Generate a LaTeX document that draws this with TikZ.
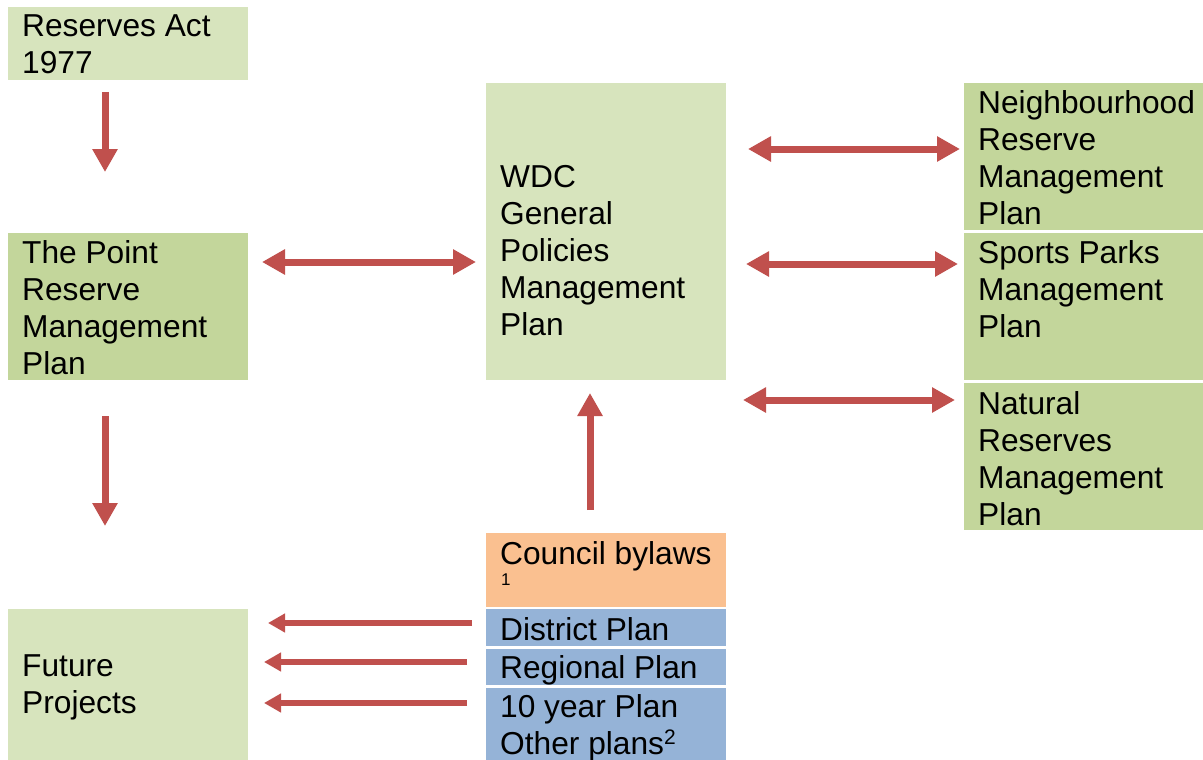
\documentclass[tikz,border=0pt]{standalone}
\usepackage{fontspec}
\setmainfont{Liberation Sans}
\usetikzlibrary{arrows.meta}
\definecolor{lgreen}{HTML}{D7E4BD}
\definecolor{dgreen}{HTML}{C3D69B}
\definecolor{lorange}{HTML}{FAC090}
\definecolor{lblue}{HTML}{95B3D7}
\definecolor{arrred}{HTML}{C0504D}
\begin{document}
\begin{tikzpicture}[x=1pt,y=-1pt,
  box/.style={anchor=north west,inner sep=0pt,outer sep=0pt,draw=none},
  txt/.style={anchor=north west,inner sep=0pt,align=left,font=\fontsize{31.7}{37}\selectfont},
  bigarr/.style={draw=arrred,line width=7pt,-{Triangle[length=23pt,width=24pt]}},
  dblarr/.style={draw=arrred,line width=7pt,{Triangle[length=23pt,width=24pt]}-{Triangle[length=23pt,width=24pt]}},
  smallarr/.style={draw=arrred,line width=6pt,-{Triangle[length=17pt,width=18pt]}}]
\useasboundingbox (0,0) rectangle (1203,760);
\fill[white] (0,0) rectangle (1203,760);
% boxes
\node[box,fill=lgreen,minimum width=240pt,minimum height=73pt] (reserves) at (8,7) {};
\node[box,fill=dgreen,minimum width=240pt,minimum height=147pt] (point) at (8,233) {};
\node[box,fill=lgreen,minimum width=240pt,minimum height=151pt] (future) at (8,609) {};
\node[box,fill=lgreen,minimum width=240pt,minimum height=297pt] (wdc) at (486,83) {};
\node[box,fill=dgreen,minimum width=239pt,minimum height=147pt] (neigh) at (964,83) {};
\node[box,fill=dgreen,minimum width=239pt,minimum height=147pt] (sports) at (964,233) {};
\node[box,fill=dgreen,minimum width=239pt,minimum height=147pt] (natural) at (964,383) {};
\node[box,fill=lorange,minimum width=240pt,minimum height=74pt] (council) at (486,533) {};
\node[box,fill=lblue,minimum width=240pt,minimum height=37pt] (district) at (486,609) {};
\node[box,fill=lblue,minimum width=240pt,minimum height=36pt] (regional) at (486,649) {};
\node[box,fill=lblue,minimum width=240pt,minimum height=72pt] (tenyear) at (486,688) {};
% texts
\node[txt] (treserves) at (22,14.5) {Reserves Act\\1977};
\node[txt] (tpoint) at (22,240.5) {The Point\\Reserve\\Management\\Plan};
\node[txt] (tfuture) at (22,654.5) {Future\\Projects};
\node[txt] (twdc) at (500,165.5) {WDC\\General\\Policies\\Management\\Plan};
\node[txt] (tneigh) at (978,90.5) {Neighbourhood\\Reserve\\Management\\Plan};
\node[txt] (tsports) at (978,240.5) {Sports Parks\\Management\\Plan};
\node[txt] (tnatural) at (978,391.5) {Natural\\Reserves\\Management\\Plan};
\node[txt] (tcouncil) at (500,541.5) {Council bylaws};
\node[anchor=base west,inner sep=0pt,font=\fontsize{17}{20}\selectfont] (tsup) at (501,585.5) {1};
\node[txt] (tdistrict) at (500,617.5) {District Plan};
\node[txt] (tregional) at (500,655.5) {Regional Plan};
\node[txt] (tten) at (500,694.5) {10 year Plan\\Other plans\raisebox{10pt}{\fontsize{21}{21}\selectfont 2}};
% helper coordinates
\coordinate (x105) at (105,0);
\coordinate (x590) at (590,0);
\coordinate (y262) at (0,262);
\coordinate (y149) at (0,149);
\coordinate (y264) at (0,264);
\coordinate (y400) at (0,400);
\coordinate (y623) at (0,623);
\coordinate (y662) at (0,662);
\coordinate (y703) at (0,703);
% arrows
\draw[bigarr,shorten <=12pt,shorten >=61pt] (reserves.south -| x105) -- (point.north -| x105);
\draw[bigarr,shorten <=36pt,shorten >=83pt] (point.south -| x105) -- (future.north -| x105);
\draw[dblarr,shorten <=14pt,shorten >=10pt] (point.east |- y262) -- (wdc.west |- y262);
\draw[dblarr,shorten <=22pt,shorten >=4pt] (wdc.east |- y149) -- (neigh.west |- y149);
\draw[dblarr,shorten <=20pt,shorten >=6pt] (wdc.east |- y264) -- (sports.west |- y264);
\draw[dblarr,shorten <=17pt,shorten >=9pt] (wdc.east |- y400) -- (natural.west |- y400);
\draw[bigarr,shorten <=23pt,shorten >=13pt] (council.north -| x590) -- (wdc.south -| x590);
\draw[smallarr,shorten <=14pt,shorten >=20pt] (district.west |- y623) -- (future.east |- y623);
\draw[smallarr,shorten <=19pt,shorten >=16pt] (regional.west |- y662) -- (future.east |- y662);
\draw[smallarr,shorten <=19pt,shorten >=16pt] (tenyear.west |- y703) -- (future.east |- y703);
\end{tikzpicture}
\end{document}
